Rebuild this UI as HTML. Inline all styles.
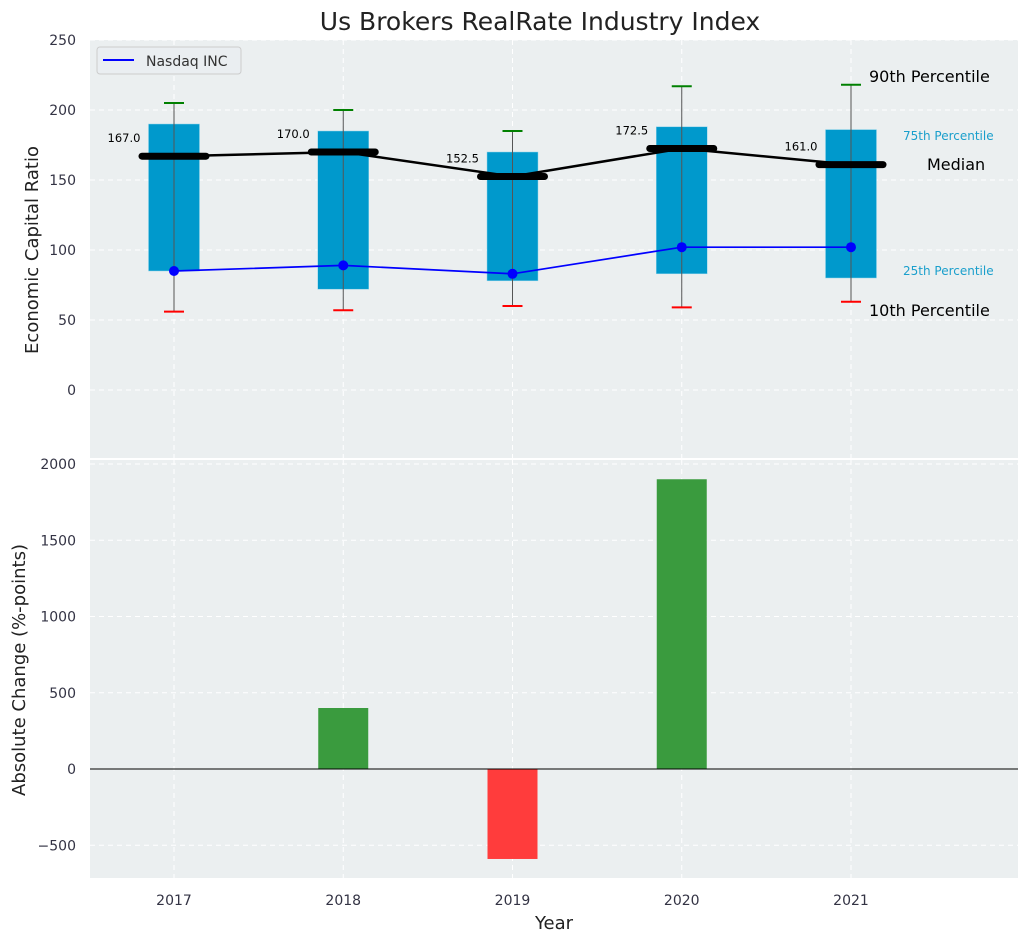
<!DOCTYPE html>
<html><head><meta charset="utf-8">
<style>
body{margin:0;background:#fff;font-family:"DejaVu Sans","Liberation Sans",sans-serif;}
svg text{font-family:"DejaVu Sans","Liberation Sans",sans-serif;}
</style></head>
<body>
<svg id="c" width="1029" height="942" xmlns="http://www.w3.org/2000/svg"></svg>
<script>
const years=[2017,2018,2019,2020,2021];
const p10=[56,57,60,59,63];
const p25=[85,72,78,83,80];
const medians=[167,170,152.5,172.5,161];
const p75=[190,185,170,188,186];
const p90=[205,200,185,217,218];
const nasdaq=[85,89,83,102,102];
const changes=[0,400,-590,1900,0];
const topTicks=[0,50,100,150,200,250];
const botTicks=[-500,0,500,1000,1500,2000];

const svg=document.getElementById('c');
const NS='http://www.w3.org/2000/svg';
function el(t,a,p){const e=document.createElementNS(NS,t);for(const k in a)e.setAttribute(k,a[k]);(p||svg).appendChild(e);return e;}
const L=90,R=1018;
const x=v=>174+(v-2017)*169.25;
const yT=v=>390-v*1.4;
const yB=v=>769-v*0.1525;

const ti=el('text',{x:540,y:30,'text-anchor':'middle','font-size':25,fill:'#222'});ti.textContent='Us Brokers RealRate Industry Index';


const ta=el('rect',{x:L,y:40,width:R-L,height:418,fill:'#ebeff0'});

const ba=el('rect',{x:L,y:460,width:R-L,height:418,fill:'#ebeff0'});


for(const t of topTicks){
  el('line',{x1:L,x2:R,y1:yT(t),y2:yT(t),stroke:'#fff','stroke-dasharray':'5,4','stroke-width':1});
  const tx=el('text',{x:76,y:yT(t)+5,'text-anchor':'end','font-size':14,fill:'#334'});tx.textContent=t;
  
}
for(const t of botTicks){
  el('line',{x1:L,x2:R,y1:yB(t),y2:yB(t),stroke:'#fff','stroke-dasharray':'5,4','stroke-width':1});
  const tx=el('text',{x:76,y:yB(t)+5,'text-anchor':'end','font-size':14,fill:'#334'});tx.textContent=(t<0?'\u2212'+(-t):t);
  
}
years.forEach(yr=>{
  el('line',{x1:x(yr),x2:x(yr),y1:40,y2:458,stroke:'#fff','stroke-dasharray':'5,4'});
  el('line',{x1:x(yr),x2:x(yr),y1:460,y2:878,stroke:'#fff','stroke-dasharray':'5,4'});
  const tx=el('text',{x:x(yr),y:905,'text-anchor':'middle','font-size':14,fill:'#334'});tx.textContent=yr;
  
});

const bw=51;
years.forEach((yr,i)=>{
  const cx=x(yr);
  const b=el('rect',{x:cx-bw/2,y:yT(p75[i]),width:bw,height:yT(p25[i])-yT(p75[i]),fill:'#0099cc',stroke:'#8fd3ea','stroke-width':0.5});
  
  el('line',{x1:cx,x2:cx,y1:yT(p90[i]),y2:yT(p10[i]),stroke:'#555','stroke-width':1});
  const c1=el('line',{x1:cx-10,x2:cx+10,y1:yT(p90[i]),y2:yT(p90[i]),stroke:'green','stroke-width':2});
  
  const c2=el('line',{x1:cx-10,x2:cx+10,y1:yT(p10[i]),y2:yT(p10[i]),stroke:'red','stroke-width':2});
  
});
el('polyline',{points:years.map((yr,i)=>x(yr)+','+yT(medians[i])).join(' '),fill:'none',stroke:'#000','stroke-width':2.5});
years.forEach((yr,i)=>{
  const m=el('line',{x1:x(yr)-32,x2:x(yr)+32,y1:yT(medians[i]),y2:yT(medians[i]),stroke:'#000','stroke-width':7,'stroke-linecap':'round'});
  
  const t=el('text',{x:x(yr)-50,y:yT(medians[i])-14,'text-anchor':'middle','font-size':11.5,fill:'#000'});t.textContent=medians[i].toFixed(1);
  
});
const nl=el('polyline',{points:years.map((yr,i)=>x(yr)+','+yT(nasdaq[i])).join(' '),fill:'none',stroke:'blue','stroke-width':1.7});

years.forEach((yr,i)=>{const c=el('circle',{cx:x(yr),cy:yT(nasdaq[i]),r:5,fill:'blue'});
  });

const ann=[['90th Percentile',869,82,16,'#000'],['75th Percentile',903,140,12,'#1a9fcc'],['Median',927,170,16,'#000'],['25th Percentile',903,275,12,'#1a9fcc'],['10th Percentile',869,316,16,'#000']];
ann.forEach(a=>{const t=el('text',{x:a[1],y:a[2],'font-size':a[3],fill:a[4]});t.textContent=a[0];
  });

const lg=el('g',{});
el('rect',{x:97,y:47,width:144,height:27,rx:3,fill:'#eaeef1',stroke:'#ccc'},lg);
el('line',{x1:103,x2:134,y1:60,y2:60,stroke:'blue','stroke-width':2},lg);
const lt=el('text',{x:146,y:66,'font-size':14,fill:'#333'},lg);lt.textContent='Nasdaq INC';

years.forEach((yr,i)=>{
  const v=changes[i];if(v===0)return;
  const r=el('rect',{x:x(yr)-bw/2+0.5,y:Math.min(yB(v),yB(0)),width:bw-1,height:Math.abs(yB(v)-yB(0)),fill:v>0?'#3a9b3e':'#ff3c3c'});
  
});
el('line',{x1:L,x2:R,y1:yB(0),y2:yB(0),stroke:'#000','stroke-width':1});

let t=el('text',{x:0,y:0,'text-anchor':'middle','font-size':18,fill:'#222',transform:'translate(38,250) rotate(-90)'});t.textContent='Economic Capital Ratio';

t=el('text',{x:0,y:0,'text-anchor':'middle','font-size':18,fill:'#222',transform:'translate(25,670) rotate(-90)'});t.textContent='Absolute Change (%-points)';

t=el('text',{x:554,y:929,'text-anchor':'middle','font-size':18,fill:'#222'});t.textContent='Year';

</script>
</body></html>
